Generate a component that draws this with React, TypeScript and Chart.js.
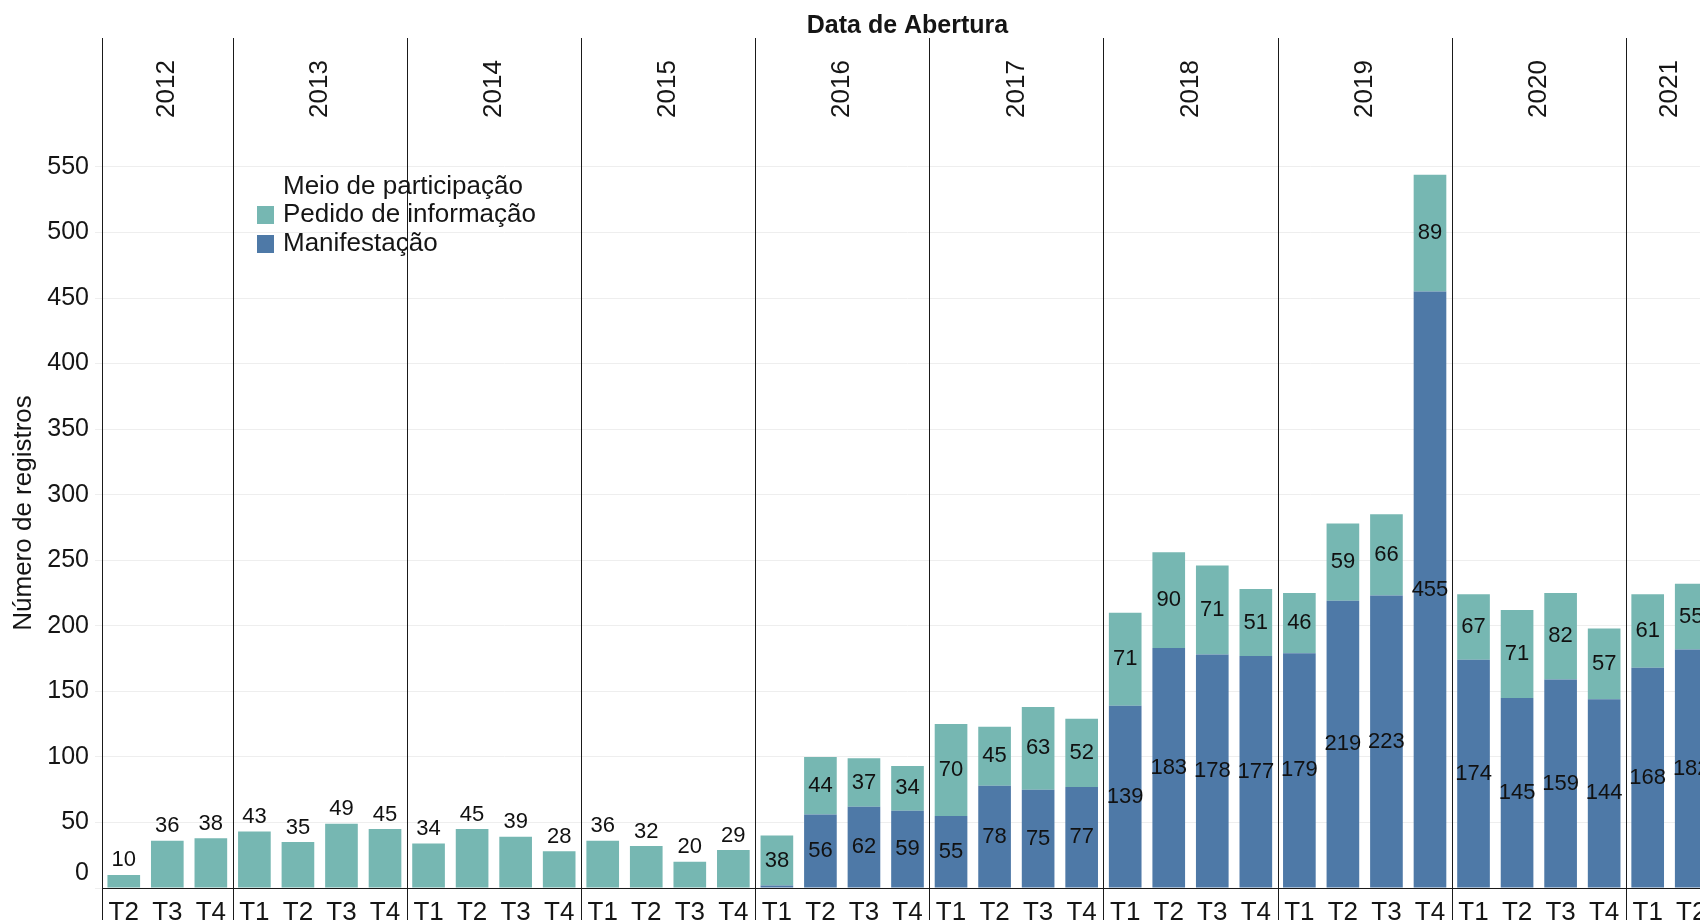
import React, { useEffect, useRef } from 'react';
import { Chart, registerables } from 'chart.js';

Chart.register(...registerables);

// ---- data ----
const chartTitle = 'Data de Abertura';
const yAxisTitle = 'Número de registros';
const legendTitle = 'Meio de participação';
const seriesNames = ['Pedido de informação', 'Manifestação'];
const seriesColors = ['#76b7b2', '#4e79a7'];

const years = ['2012', '2013', '2014', '2015', '2016', '2017', '2018', '2019', '2020', '2021'];
const quartersByYear = [
  ['T2', 'T3', 'T4'],
  ['T1', 'T2', 'T3', 'T4'],
  ['T1', 'T2', 'T3', 'T4'],
  ['T1', 'T2', 'T3', 'T4'],
  ['T1', 'T2', 'T3', 'T4'],
  ['T1', 'T2', 'T3', 'T4'],
  ['T1', 'T2', 'T3', 'T4'],
  ['T1', 'T2', 'T3', 'T4'],
  ['T1', 'T2', 'T3', 'T4'],
  ['T1', 'T2'],
];

// Pedido de informação: segment heights as drawn
const pedidoInformacao = [
  10, 36, 38,
  43, 35, 49, 45,
  34, 45, 39, 28,
  36, 32, 20, 29,
  38, 44, 37, 34,
  70, 45, 63, 52,
  71, 73, 68, 51,
  46, 59, 62, 89,
  50, 67, 66, 54,
  56, 50,
];
// Pedido de informação: values printed on the segments
const pedidoInformacaoLabels = [
  10, 36, 38,
  43, 35, 49, 45,
  34, 45, 39, 28,
  36, 32, 20, 29,
  38, 44, 37, 34,
  70, 45, 63, 52,
  71, 90, 71, 51,
  46, 59, 66, 89,
  67, 71, 82, 57,
  61, 55,
];
const manifestacao: (number | null)[] = [
  null, null, null,
  null, null, null, null,
  null, null, null, null,
  null, null, null, null,
  2, 56, 62, 59,
  55, 78, 75, 77,
  139, 183, 178, 177,
  179, 219, 223, 455,
  174, 145, 159, 144,
  168, 182,
];

const yMax = 585;
const yStep = 50;

// ---- style constants ----
const FONT = '"Liberation Sans", Arial, sans-serif';
const TEXT = '#151515';

export default function App() {
  const ref = useRef<HTMLCanvasElement | null>(null);

  useEffect(() => {
    const canvas = ref.current;
    if (!canvas) return;

    const labels = quartersByYear.flat();
    const yearStart: number[] = [];
    let acc = 0;
    quartersByYear.forEach((q) => {
      yearStart.push(acc);
      acc += q.length;
    });

    const framePlugin = {
      id: 'frame',
      afterDraw(chart: any) {
        const ctx = chart.ctx as CanvasRenderingContext2D;
        const xs = chart.scales.x;
        const ys = chart.scales.y;
        const area = chart.chartArea;
        const slot = (area.right - area.left) / labels.length;
        ctx.save();

        // title
        ctx.fillStyle = TEXT;
        ctx.font = `bold 25px ${FONT}`;
        ctx.textAlign = 'center';
        ctx.textBaseline = 'middle';
        ctx.fillText(chartTitle, (area.left + area.right) / 2, 26);

        // separators + year headers
        ctx.strokeStyle = '#1a1a1a';
        ctx.lineWidth = 1;
        years.forEach((yr, i) => {
          const start = yearStart[i];
          const n = quartersByYear[i].length;
          const x0 = xs.getPixelForValue(start) - slot / 2;
          const x1 = xs.getPixelForValue(start + n - 1) + slot / 2;
          const xl = Math.round(x0) + 0.5;
          ctx.beginPath();
          ctx.moveTo(xl, 38);
          ctx.lineTo(xl, 920);
          ctx.stroke();
          ctx.save();
          ctx.translate((x0 + x1) / 2, 89);
          ctx.rotate(-Math.PI / 2);
          ctx.font = `26px ${FONT}`;
          ctx.fillStyle = TEXT;
          ctx.textAlign = 'center';
          ctx.textBaseline = 'middle';
          ctx.fillText(yr, 0, 0);
          ctx.restore();
        });

        // y axis title
        ctx.save();
        ctx.translate(24, 513);
        ctx.rotate(-Math.PI / 2);
        ctx.font = `26px ${FONT}`;
        ctx.fillStyle = TEXT;
        ctx.textAlign = 'center';
        ctx.textBaseline = 'middle';
        ctx.fillText(yAxisTitle, 0, 0);
        ctx.restore();

        // zero tick label (sits above the baseline)
        ctx.font = `25px ${FONT}`;
        ctx.textAlign = 'right';
        ctx.textBaseline = 'middle';
        ctx.fillStyle = TEXT;
        ctx.fillText('0', 89, ys.getPixelForValue(0) - 15);

        // legend
        ctx.font = `26px ${FONT}`;
        ctx.textAlign = 'left';
        ctx.fillText(legendTitle, 283, 187);
        const rows = [215, 244];
        seriesNames.forEach((name, i) => {
          ctx.fillStyle = seriesColors[i];
          ctx.fillRect(257, rows[i] - 9, 17, 18);
          ctx.fillStyle = TEXT;
          ctx.fillText(name, 283, rows[i]);
        });
        ctx.restore();
      },
    };

    const labelPlugin = {
      id: 'segLabels',
      afterDatasetsDraw(chart: any) {
        const ctx = chart.ctx as CanvasRenderingContext2D;
        const mMeta = chart.getDatasetMeta(0);
        const pMeta = chart.getDatasetMeta(1);
        ctx.save();
        ctx.font = `22px ${FONT}`;
        ctx.fillStyle = '#111111';
        ctx.textAlign = 'center';
        ctx.textBaseline = 'middle';
        labels.forEach((_, i) => {
          const m = manifestacao[i];
          if (m != null && m >= 10) {
            const el = mMeta.data[i];
            ctx.fillText(String(m), el.x, (el.y + el.base) / 2);
          }
          const p = pedidoInformacao[i];
          if (p != null) {
            const el = pMeta.data[i];
            const y = m == null ? el.y - 14.5 : (el.y + el.base) / 2;
            ctx.fillText(String(pedidoInformacaoLabels[i]), el.x, y);
          }
        });
        ctx.restore();
      },
    };

    const chart = new Chart(canvas, {
      type: 'bar',
      data: {
        labels,
        datasets: [
          {
            label: seriesNames[1],
            data: manifestacao,
            backgroundColor: seriesColors[1],
            borderWidth: 0,
            barPercentage: 0.75,
            categoryPercentage: 1,
          },
          {
            label: seriesNames[0],
            data: pedidoInformacao,
            backgroundColor: seriesColors[0],
            borderWidth: 0,
            barPercentage: 0.75,
            categoryPercentage: 1,
          },
        ],
      },
      options: {
        responsive: false,
        animation: false,
        layout: { padding: { top: 121, left: 0, right: 0, bottom: 0 } },
        plugins: {
          legend: { display: false },
          title: { display: false },
          tooltip: { enabled: false },
        },
        scales: {
          x: {
            stacked: true,
            grid: { display: false },
            border: { display: true, color: '#1a1a1a', width: 1 },
            ticks: {
              autoSkip: false,
              maxRotation: 0,
              minRotation: 0,
              padding: 1,
              color: TEXT,
              font: { size: 26, family: FONT },
            },
            afterFit: (s: any) => {
              s.height = 32;
            },
          },
          y: {
            stacked: true,
            min: 0,
            max: yMax,
            border: { display: false },
            grid: { color: '#eeeeee', lineWidth: 1, tickLength: 7, drawTicks: true },
            ticks: {
              stepSize: yStep,
              includeBounds: false,
              padding: 6,
              color: TEXT,
              font: { size: 25, family: FONT },
              callback: (v: any) => (v === 0 ? '' : String(v)),
            },
            afterFit: (s: any) => {
              s.width = 102;
            },
          },
        },
      },
      plugins: [labelPlugin, framePlugin],
    });

    return () => chart.destroy();
  }, []);

  return (
    <div
      style={{
        position: 'fixed',
        left: 0,
        top: 0,
        width: 1700,
        height: 920,
        overflow: 'hidden',
        background: '#ffffff',
      }}
    >
      <canvas ref={ref} width={1713} height={920} style={{ display: 'block', width: 1713, height: 920 }} />
    </div>
  );
}
